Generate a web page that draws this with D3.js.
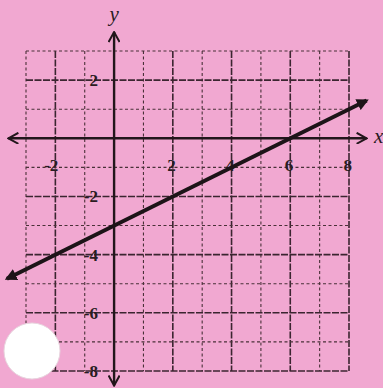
<!DOCTYPE html>
<meta charset="utf-8">
<style>
	body { margin: 0; background: #f1a8d1; }
	svg { display: block; }
	.grid-major { stroke: #3b2530; stroke-width: 1.6; stroke-dasharray: 7,1.5; }
	.grid-minor { stroke: #4a3038; stroke-width: 1.1; stroke-dasharray: 3,2.5; }
	.axis-line { stroke: #22161b; stroke-width: 2.4; fill: none; }
	.graph-line { stroke: #1d1418; stroke-width: 4; fill: none; }
	.tick-label { font-family: "Liberation Serif", "DejaVu Serif", serif; font-size: 17px; font-weight: bold; fill: #2a1c22; }
	.axis-name { font-family: "Liberation Serif", "DejaVu Serif", serif; font-size: 21px; font-style: italic; fill: #2a1c22; }
</style>
<body></body>
<script src="https://d3js.org/d3.v7.min.js"></script>
<script>
	var width = 383, height = 388;

	// grid extent (graph units)
	var xDomain = [-3, 8];
	var yDomain = [-8, 3];
	// labelled ticks
	var xTicks = [-2, 2, 4, 6, 8];
	var yTicks = [2, -2, -4, -6, -8];
	// the plotted line y = x/2 - 3, its two arrow ends
	var lineX = [-3.65, 8.6];
	var lineY = [-4.83, 1.3];
	// axis arrow ends
	var xAxisEnds = [-3.6, 8.6];
	var yAxisEnds = [-8.5, 3.65];

	var x = d3.scaleLinear().domain(xDomain).range([26, 349]);
	var y = d3.scaleLinear().domain(yDomain).range([371, 51]);

	var svg = d3.select("body").append("svg")
		.attr("width", width)
		.attr("height", height);

	var defs = svg.append("defs");
	defs.append("marker")
		.attr("id", "chev")
		.attr("viewBox", "0 0 12 12")
		.attr("refX", 11).attr("refY", 6)
		.attr("markerWidth", 12).attr("markerHeight", 12)
		.attr("markerUnits", "userSpaceOnUse")
		.attr("orient", "auto-start-reverse")
		.append("path")
		.attr("d", "M1,0.5 L11,6 L1,11.5")
		.attr("fill", "none")
		.attr("stroke", "#22161b")
		.attr("stroke-width", 2);
	defs.append("marker")
		.attr("id", "tri")
		.attr("viewBox", "0 0 10 10")
		.attr("refX", 8).attr("refY", 5)
		.attr("markerWidth", 12).attr("markerHeight", 12)
		.attr("markerUnits", "userSpaceOnUse")
		.attr("orient", "auto-start-reverse")
		.append("path")
		.attr("d", "M0,0 L10,5 L0,10 Z")
		.attr("fill", "#1d1418");

	// grid
	var xs = d3.range(xDomain[0], xDomain[1] + 1);
	var ys = d3.range(yDomain[0], yDomain[1] + 1);

	svg.selectAll(".vgrid")
		.data(xs.filter(function(d) { return d != 0; }))
		.enter().append("line")
		.attr("class", function(d) { return d % 2 == 0 ? "grid-major" : "grid-minor"; })
		.attr("x1", function(d) { return x(d); })
		.attr("x2", function(d) { return x(d); })
		.attr("y1", y(yDomain[1]))
		.attr("y2", y(yDomain[0]));

	svg.selectAll(".hgrid")
		.data(ys.filter(function(d) { return d != 0; }))
		.enter().append("line")
		.attr("class", function(d) { return d % 2 == 0 ? "grid-major" : "grid-minor"; })
		.attr("x1", x(xDomain[0]))
		.attr("x2", x(xDomain[1]))
		.attr("y1", function(d) { return y(d); })
		.attr("y2", function(d) { return y(d); });

	// axes
	svg.append("line")
		.attr("class", "axis-line")
		.attr("x1", x(xAxisEnds[0])).attr("x2", x(xAxisEnds[1]))
		.attr("y1", y(0)).attr("y2", y(0))
		.attr("marker-start", "url(#chev)")
		.attr("marker-end", "url(#chev)");

	svg.append("line")
		.attr("class", "axis-line")
		.attr("x1", x(0)).attr("x2", x(0))
		.attr("y1", y(yAxisEnds[0])).attr("y2", y(yAxisEnds[1]))
		.attr("marker-start", "url(#chev)")
		.attr("marker-end", "url(#chev)");

	// tick labels
	svg.selectAll(".xlab")
		.data(xTicks)
		.enter().append("text")
		.attr("class", "tick-label")
		.attr("text-anchor", "end")
		.attr("x", function(d) { return x(d) + 3; })
		.attr("y", y(-1) + 4)
		.text(function(d) { return d < 0 ? "-" + Math.abs(d) : d; });

	svg.selectAll(".ylab")
		.data(yTicks)
		.enter().append("text")
		.attr("class", "tick-label")
		.attr("text-anchor", "end")
		.attr("x", x(-0.55))
		.attr("y", function(d) { return y(d) + 6; })
		.text(function(d) { return d < 0 ? "-" + Math.abs(d) : d; });

	svg.append("text")
		.attr("class", "axis-name")
		.attr("text-anchor", "middle")
		.attr("x", x(0))
		.attr("y", 21)
		.text("y");

	svg.append("text")
		.attr("class", "axis-name")
		.attr("x", 374)
		.attr("y", y(0) + 5)
		.text("x");

	// the line
	var line = d3.line()
		.x(function(d) { return x(d[0]); })
		.y(function(d) { return y(d[1]); });

	svg.append("path")
		.datum(d3.zip(lineX, lineY))
		.attr("class", "graph-line")
		.attr("d", line)
		.attr("marker-start", "url(#tri)")
		.attr("marker-end", "url(#tri)");

	// punched hole
	svg.append("circle")
		.attr("cx", 32).attr("cy", 351).attr("r", 28)
		.attr("fill", "#ffffff")
		.attr("stroke", "#e8d6df")
		.attr("stroke-width", 1);
</script>
